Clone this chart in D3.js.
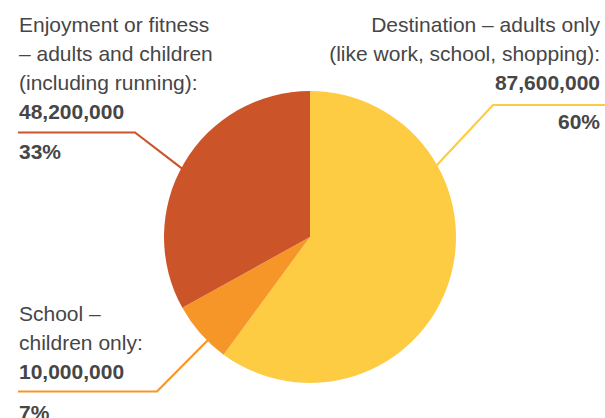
<!DOCTYPE html>
<html lang="en">
  <head>
    <meta charset="UTF-8" />
    <title>Trips by purpose</title>
    <style>
      body {
        margin: 0;
        background: #fff;
      }
      text {
        font-family: "Liberation Sans", Arial, Helvetica, sans-serif;
        font-size: 21px;
        fill: #464646;
      }
      .bold {
        font-weight: bold;
      }
    </style>
  </head>
  <body>
    <svg id="svg" width="605" height="418"></svg>
    <script src="https://cdn.jsdelivr.net/npm/d3@7"></script>
    <script>
      // Data
      const categories = ["Destination", "School", "Enjoyment or fitness"];
      const values = [87600000, 10000000, 48200000];
      const percents = ["60%", "7%", "33%"];
      const labelLines = [
        ["Destination \u2013 adults only", "(like work, school, shopping):"],
        ["School \u2013", "children only:"],
        ["Enjoyment or fitness", "\u2013 adults and children", "(including running):"]
      ];
      const colors = ["#fecc43", "#f79628", "#cb5529"];

      const width = 605;
      const height = 418;
      const cx = 310;
      const cy = 237;
      const radius = 146;
      const lineGap = 29;

      // label layout: where the text block sits, where the leader bends,
      // and how far along the slice the leader touches the pie
      const layout = [
        { x: 600, anchor: "end", top: 32, rule: 105, pct: 129, elbow: 493, edge: 605, frac: 0.28 },
        { x: 19, anchor: "start", top: 321, rule: 391.5, pct: 420, elbow: 157, edge: 18, frac: 0.34 },
        { x: 19, anchor: "start", top: 32, rule: 132.5, pct: 159, elbow: 135, edge: 18, frac: 0.48 }
      ];

      const data = categories.map((c, i) => ({
        name: c,
        value: values[i],
        pct: percents[i],
        lines: labelLines[i],
        color: colors[i],
        pos: layout[i]
      }));

      const svg = d3.select("#svg");

      const pie = d3.pie().sort(null).value((d) => d.value);
      const arcs = pie(data);
      const arc = d3.arc().innerRadius(0).outerRadius(radius);

      const g = svg.append("g").attr("transform", `translate(${cx},${cy})`);

      g.selectAll("path")
        .data(arcs)
        .enter()
        .append("path")
        .attr("d", arc)
        .attr("fill", (d) => d.data.color);

      // leader lines
      arcs.forEach((a) => {
        const p = a.data.pos;
        const ang = a.startAngle + (a.endAngle - a.startAngle) * p.frac;
        const tip = d3.pointRadial(ang, radius - 1);
        const pts = [
          [p.edge, p.rule],
          [p.elbow, p.rule],
          [tip[0] + cx, tip[1] + cy]
        ];
        svg.append("path")
          .attr("d", d3.line()(pts))
          .attr("fill", "none")
          .attr("stroke", a.data.color)
          .attr("stroke-width", 2.2);
      });

      // text labels
      const fmt = d3.format(",");
      data.forEach((d) => {
        const p = d.pos;
        const t = svg.append("g").attr("text-anchor", p.anchor);
        d.lines.forEach((ln, j) => {
          t.append("text")
            .attr("x", p.x)
            .attr("y", p.top + j * lineGap)
            .text(ln);
        });
        t.append("text")
          .attr("class", "bold")
          .attr("x", p.x)
          .attr("y", p.top + d.lines.length * lineGap - (d.lines.length === 3 ? 0 : 0))
          .text(fmt(d.value));
        t.append("text")
          .attr("class", "bold")
          .attr("x", p.x)
          .attr("y", p.pct)
          .text(d.pct);
      });
    </script>
  </body>
</html>
